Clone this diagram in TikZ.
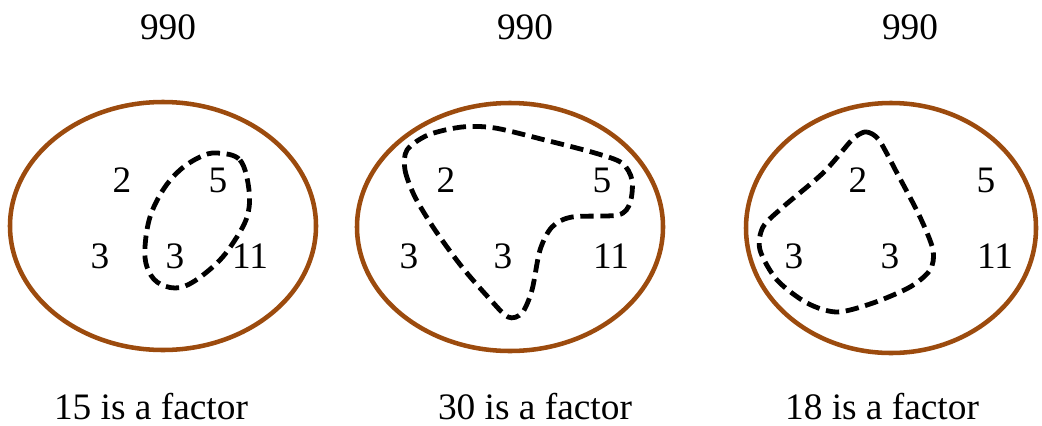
\documentclass[tikz,border=0pt]{standalone}
\usepackage{fontspec}
\setmainfont{Liberation Serif}
\usepackage{tikz}
\definecolor{setbrown}{RGB}{156,75,14}

\begin{document}
\begin{tikzpicture}[
  x=0.75pt,y=-0.75pt,
  font=\rmfamily\fontsize{28}{34}\selectfont,
  setline/.style={draw=setbrown,line width=3.4pt},
  grp/.style={draw=black,line width=3.6pt,dash pattern=on 10pt off 5pt},
  num/.style={inner sep=0pt,anchor=base}]
\useasboundingbox (0,0) rectangle (1042,425);
% universal sets
\draw[setline] (163,226) ellipse [x radius=153, y radius=124];
\draw[setline] (510,227) ellipse [x radius=153, y radius=124];
\draw[setline] (891,228) ellipse [x radius=145, y radius=125];
% titles
\node[num] (ta) at (168,39) {990};
\node[num] (tb) at (525,39) {990};
\node[num] (tc) at (910,39) {990};
% first set
\node[num] (a2)  at (122,192) {2};
\node[num] (a5)  at (218,192) {5};
\node[num] (a3)  at (100,268) {3};
\node[num] (a3b) at (175,268) {3};
\node[num] (a11) at (250,268) {11};
\draw[grp] plot[smooth cycle,tension=0.6] coordinates {
  (217,153) (240,160) (249,190) (247,217) (233,243) (217,263) (193,282)
  (175,288) (157,282) (147,267) (145,247) (150,217) (163,190) (180,170) (200,157)};
% second set
\node[num] (b2)  at (446,192) {2};
\node[num] (b5)  at (602,192) {5};
\node[num] (b3)  at (409,268) {3};
\node[num] (b3b) at (503,268) {3};
\node[num] (b11) at (611,268) {11};
\draw[grp] plot[smooth cycle,tension=0.5] coordinates {
  (407,150) (405,170) (415,197) (435,230) (462,267) (488,297) (508,317)
  (522,313) (532,290) (540,250) (552,227) (572,217) (618,215) (630,203)
  (632,180) (622,163) (595,153) (545,140) (495,128) (462,127) (428,135)};
% third set
\node[num] (c2)  at (858,192) {2};
\node[num] (c5)  at (986,192) {5};
\node[num] (c3)  at (794,268) {3};
\node[num] (c3b) at (890,268) {3};
\node[num] (c11) at (995,268) {11};
\draw[grp] plot[smooth cycle,tension=0.5] coordinates {
  (858,135) (867,132) (879,140) (897,173) (920,217) (933,250) (930,270)
  (910,287) (873,303) (837,312) (807,303) (777,280) (760,250) (763,227)
  (783,207) (823,173) (850,142)};
% captions
\node[num] (fa) at (151,419) {15 is a factor};
\node[num] (fb) at (535,419) {30 is a factor};
\node[num] (fc) at (882,419) {18 is a factor};
\end{tikzpicture}
\end{document}
